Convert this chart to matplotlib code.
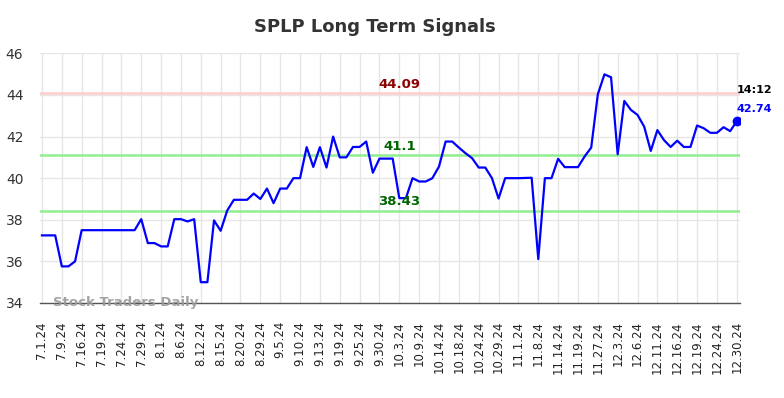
import matplotlib
matplotlib.use('Agg')
import matplotlib.pyplot as plt

# closing prices, one per session shown on the chart
prices = [
    37.25, 37.25, 37.25, 35.76, 35.76, 36.0, 37.5, 37.5, 37.5, 37.5,
    37.5, 37.5, 37.5, 37.5, 37.5, 38.03, 36.88, 36.88, 36.72, 36.72,
    38.03, 38.03, 37.92, 38.03, 35.0, 35.0, 37.97, 37.47, 38.45, 38.96,
    38.96, 38.96, 39.26, 39.0, 39.5, 38.8, 39.5, 39.5, 40.0, 40.0,
    41.49, 40.54, 41.49, 40.51, 42.0, 41.0, 41.0, 41.5, 41.5, 41.76,
    40.26, 40.94, 40.94, 40.94, 39.04, 39.04, 40.0, 39.84, 39.84, 40.0,
    40.56, 41.76, 41.76, 41.47, 41.2, 40.96, 40.51, 40.51, 40.0, 39.02,
    40.0, 40.0, 40.0, 40.01, 40.02, 36.11, 40.0, 40.0, 40.93, 40.53,
    40.53, 40.53, 41.04, 41.47, 44.03, 44.99, 44.85, 41.15, 43.71, 43.28,
    43.04, 42.48, 41.31, 42.31, 41.83, 41.5, 41.8, 41.5, 41.5, 42.53,
    42.4, 42.18, 42.18, 42.45, 42.26, 42.74,
]

tick_labels = [
    '7.1.24', '7.9.24', '7.16.24', '7.19.24', '7.24.24', '7.29.24',
    '8.1.24', '8.6.24', '8.12.24', '8.15.24', '8.20.24', '8.29.24',
    '9.5.24', '9.10.24', '9.13.24', '9.19.24', '9.25.24', '9.30.24',
    '10.3.24', '10.9.24', '10.14.24', '10.18.24', '10.24.24', '10.29.24',
    '11.1.24', '11.8.24', '11.14.24', '11.19.24', '11.27.24', '12.3.24',
    '12.6.24', '12.11.24', '12.16.24', '12.19.24', '12.24.24', '12.30.24',
]

resistance = 44.09
middle = 41.1
support = 38.43
last_time = '14:12'

x = list(range(len(prices)))

fig = plt.figure(figsize=(7.84, 3.98), dpi=100)
ax = fig.add_axes([0.051, 0.2387, 0.893, 0.6273])

ax.set_xlim(-0.3, len(prices) - 0.5)
ax.set_ylim(34, 46)
ax.set_yticks(range(34, 47, 2))
ax.set_xticks(x[::3])
ax.set_xticklabels(tick_labels, rotation=90, fontsize=8.5, color='#222222')
ax.tick_params(axis='x', length=0, pad=13)
ax.tick_params(axis='y', length=0, pad=12, labelsize=10, labelcolor='#333333')

ax.grid(True, color='#e6e6e6', linewidth=1)
ax.set_axisbelow(True)
for side in ['top', 'right', 'left']:
    ax.spines[side].set_visible(False)
ax.spines['bottom'].set_color('#555555')
ax.spines['bottom'].set_linewidth(1)

# signal levels
ax.axhline(resistance, color='#ffcccc', linewidth=1.8)
ax.axhline(middle, color='#90ee90', linewidth=1.8)
ax.axhline(support, color='#90ee90', linewidth=1.8)

label_x = 54
ax.text(label_x, resistance + 0.12, f'{resistance:g}', color='#8b0000', fontsize=9.5,
        fontweight='bold', ha='center', va='bottom')
ax.text(label_x, middle + 0.12, f'{middle:g}', color='#006400', fontsize=9.5,
        fontweight='bold', ha='center', va='bottom')
ax.text(label_x, support + 0.12, f'{support:g}', color='#006400', fontsize=9.5,
        fontweight='bold', ha='center', va='bottom')

ax.plot(x, prices, color='#0000ff', linewidth=1.6)
ax.plot(x[-1], prices[-1], 'o', color='#0000ff', markersize=6)

ax.annotate(last_time, (x[-1], prices[-1]), xytext=(0, 19), textcoords='offset points',
            fontsize=8, fontweight='bold', color='black', ha='left', va='bottom',
            annotation_clip=False)
ax.annotate(f'{prices[-1]:.2f}', (x[-1], prices[-1]), xytext=(0, 5), textcoords='offset points',
            fontsize=8, fontweight='bold', color='#0000ff', ha='left', va='bottom',
            annotation_clip=False)

ax.text(1.6, 34, 'Stock Traders Daily', color='#999999', alpha=0.9, fontsize=9.5,
        fontweight='bold', ha='left', va='center')

fig.text(0.478, 1 - 27 / 398, 'SPLP Long Term Signals', fontsize=13, fontweight='bold',
         color='#333333', ha='center', va='center')

fig.savefig('out.png', dpi=100)
